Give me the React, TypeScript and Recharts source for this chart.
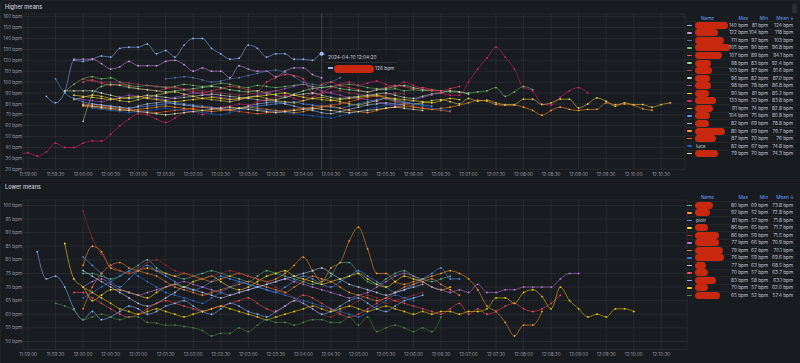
import React from 'react';
import { LineChart, Line, XAxis, YAxis, CartesianGrid, ReferenceLine, ReferenceDot } from 'recharts';

const FONT = 'Inter, "Noto Sans", sans-serif';
const TXT = '#ccccdc';
const AXIS_TXT = 'rgba(204,204,220,0.72)';
const GRID = 'rgba(204,204,220,0.08)';
const HEAD = '#6e9fff';
const BLOB = '#c8290e';

// seconds since 11:59:00, one sample every 10 s
const xTicks = [0, 30, 60, 90, 120, 150, 180, 210, 240, 270, 300, 330, 360, 390, 420, 450, 480, 510, 540, 570, 600, 630, 660, 690];
const topYTicks = [20, 30, 40, 50, 60, 70, 80, 90, 100, 110, 120, 130, 140, 150, 160];
const lowYTicks = [50, 55, 60, 65, 70, 75, 80, 85, 90, 95, 100];

// ---- Higher means ----
const hi01 = [87, 81, 91, 120, 119, 121, 124, 123, 131, 132, 132, 135, 126, 129, 123, 134, 140, 140, 131, 126, 121, 122, 134, 131, 123, 126, 126, 121, 121, 120, 126, 124];
const hi02 = [121, 121, 121, 117, 112, 114, 119, 115, 115, 115, 119, 120, 116, 110, 113, 110, 110, 104, 115, 112, 110, 110, 105, 110, 113, 113, 107, 104];
const hi03 = [103, 104, 105, 104, 102, 100, 101, 103, 104, 106, 108, 110, 111, 109, 105, 100, 98, 97, 100, 104];
const hi04 = [91, 98, 103, 105, 103, 104, 100, 97, 96, 97, 96, 95, 96, 98, 97, 96, 97, 99, 98, 96, 95, 97, 96, 95, 96, 97, 98, 96, 95, 96, 97, 98, 97, 95, 94, 93, 94, 92, 93, 92, 93, 92, 91, 91, 90, 91, 92, 95, 87, 91, 96, 93];
const hi05 = [100, 102, 99, 97, 98, 96, 94, 93, 92, 94, 95, 93, 91, 90, 92, 94, 96, 95, 93, 92, 100, 104, 107, 106, 103, 90, 98, 100, 97, 95, 93, 91, 93, 95, 97, 96, 94, 95, 93, 92, 94, 96];
const hi06 = [64, 88, 96, 98, 97, 95, 94, 93, 92, 91, 92, 93, 94, 95, 96, 95, 93, 92, 91, 92, 90, 88, 86, 89, 92, 94, 95, 96, 94, 93, 92, 91, 93, 94, 96, 97, 95, 93, 92];
const hi07 = [103, 101, 100, 100, 100, 99, 98, 97, 96, 96, 95, 94, 93, 92, 91, 90, 89, 88, 89, 90, 91, 92, 90, 88, 87, 89, 90, 91, 92, 90, 89, 88, 87, 88, 90, 89];
const hi08 = [92, 92, 92, 92, 90, 88, 86, 85, 86, 88, 87, 86, 85, 86, 87, 88, 89, 88, 87, 86, 85, 84, 83, 84, 86, 88, 89, 90, 88, 86, 85, 86, 87, 88, 89, 90, 88, 86, 85, 87, 89, 90, 92, 91, 89];
const hi09 = [85, 84, 83, 82, 84, 86, 88, 87, 86, 85, 84, 86, 88, 90, 89, 87, 86, 85, 84, 86, 88, 90, 92, 94, 96, 98, 95, 92, 90, 88, 86, 85, 84, 82, 80, 78, 80, 83, 86, 88];
const hi10 = [88, 87, 86, 85, 84, 85, 86, 87, 85, 84, 83, 82, 83, 84, 85, 86, 85, 84, 85, 86, 87, 88, 89, 90, 88, 86, 85, 84, 83, 84, 85, 86, 87, 88, 86, 85, 84, 83, 82, 81, 83, 85, 84];
const hi11 = [34, 35, 32, 36, 44, 40, 40, 44, 46, 46, 52, 60, 66, 71, 70, 66, 63, 67, 72, 73, 70, 75, 77, 78, 80, 79, 82, 84, 86, 88, 85, 83, 86, 90, 95, 98, 100, 97, 99, 101, 98, 96, 100, 97, 94, 92, 90, 88, 88, 100, 112, 122, 132, 123, 112, 95, 92, 80, 79, 86, 92, 95, 90];
const hi12 = [84, 86, 88, 87, 85, 83, 82, 84, 86, 88, 90, 91, 89, 87, 85, 84, 83, 82, 84, 86, 87, 85, 83, 82, 81, 83, 85, 86, 84, 82, 80, 79, 81, 83, 85, 84, 82, 80, 81, 83, 84, 82, 80, 85, 82.5, 83.4, 81, 79.4, 79.4, 84.3, 84.3, 79.4, 81, 84.3, 84.3, 76.3, 80, 85.5, 82.5, 78, 81, 79.4, 79.4, 77, 79.4, 81];
const hi13 = [103, 90, 85, 82, 80, 79, 78, 77, 76, 77, 78, 79, 80, 81, 80, 79, 78, 77, 76, 75, 76, 77, 78, 79, 80, 81, 82, 80, 79, 78, 77, 76, 78, 80, 82, 84, 85, 83, 81, 80, 79, 78];
const hi14 = [80, 79, 78, 77, 76, 78, 80, 81, 82, 80, 79, 78, 77, 76, 75, 74, 76, 78, 80, 81, 82, 80, 78, 76, 74, 72, 71, 73, 75, 77, 79, 80, 81, 80, 79];
const hi15 = [78, 77, 76, 75, 74, 74, 75, 76, 77, 78, 77, 76, 75, 74, 73, 74, 75, 76, 77, 76, 75, 74, 73, 72, 73, 75, 77, 78, 76, 74, 73, 72, 74, 76, 77, 78, 77, 76, 75, 76, 77, 78.8, 81, 83.4, 82.5, 79.4, 78.8, 78.8, 77, 74, 69.6, 74, 77, 75, 74, 75, 75, 81, 79.4, 80, 78.8, 75.5, 74.2];
const hi16 = [80, 79, 78, 77, 76, 75, 74, 73, 72, 73, 74, 75, 76, 77, 76, 75, 74, 73, 72, 71, 72, 73, 74, 75, 76, 77, 78, 79, 80, 82, 84, 86, 87, 85, 82, 80, 78, 76, 75, 74, 73];
const hi17 = [76, 75, 74, 73, 72, 73, 74, 75, 76, 75, 74, 73, 72, 71, 70, 72, 74, 76, 75, 74, 73, 72, 71, 70, 69, 68, 67, 69, 71, 73, 75, 77, 79, 80, 82, 80, 78, 76, 75, 74];
const hi18 = [79, 78, 77, 76, 75, 74, 73, 72, 71, 70, 71, 72, 73, 74, 75, 76, 77, 76, 75, 74, 73, 72, 73, 74, 75, 76, 75, 74, 73, 72, 73, 74, 75, 76, 77, 76, 75, 74];

const hiValues = [hi01, hi02, hi03, hi04, hi05, hi06, hi07, hi08, hi09, hi10, hi11, hi12, hi13, hi14, hi15, hi16, hi17, hi18];
const hiStarts = [20, 50, 150, 40, 60, 60, 60, 40, 50, 50, -10, 50, 30, 70, 60, 60, 70, 60];
const hiColors = ['#8ab8ff', '#ca95e5', '#5778b8', '#73bf69', '#f2495c', '#96d98d', '#a3405a', '#c9dcbf', '#a352cc', '#fade2a', '#e0226e', '#e5d14a', '#5794f2', '#a9c3ec', '#ff9830', '#f2662d', '#1f60c4', '#eadfa8'];
const hiNames = [null, null, null, null, null, null, null, null, null, null, null, null, null, null, null, null, 'luca', null];
const hiMax = ['140 bpm', '122 bpm', '111 bpm', '105 bpm', '107 bpm', '98 bpm', '103 bpm', '96 bpm', '98 bpm', '90 bpm', '133 bpm', '91 bpm', '104 bpm', '82 bpm', '80 bpm', '87 bpm', '82 bpm', '79 bpm'];
const hiMin = ['81 bpm', '104 bpm', '97 bpm', '90 bpm', '89 bpm', '83 bpm', '87 bpm', '82 bpm', '78 bpm', '81 bpm', '33 bpm', '74 bpm', '75 bpm', '69 bpm', '69 bpm', '70 bpm', '67 bpm', '70 bpm'];
const hiMean = ['124 bpm', '118 bpm', '103 bpm', '96.8 bpm', '94.1 bpm', '92.4 bpm', '91.6 bpm', '87.0 bpm', '86.8 bpm', '85.2 bpm', '83.8 bpm', '82.8 bpm', '80.8 bpm', '78.8 bpm', '76.7 bpm', '76 bpm', '74.8 bpm', '74.3 bpm'];
const hiBlobW = [33, 23, 29, 35, 27, 16, 17, 15, 16, 14, 21, 18, 15, 14, 30, 21, 0, 23];

const hoverT = 320;
const hoverValue = hi01[(hoverT - 20) / 10];

// ---- Lower means ----
const lo01 = [75, 75, 74, 73, 74, 76, 78, 80, 77, 75, 74, 73, 74, 75, 76, 75, 74, 73, 72, 74, 76, 75, 74, 73, 72, 71, 72, 74, 79, 79, 75, 72, 71, 73, 75, 76, 74, 73, 72, 73, 74];
const lo02 = [78, 85, 83, 77, 76, 75, 76, 77, 76, 75, 74, 75, 74, 73, 72, 73, 74, 75, 74, 73, 72, 73, 75, 78, 81, 76, 72, 77, 79, 87, 92, 84, 75, 75, 72, 71, 72, 73, 74, 75, 76, 75, 73, 69, 63, 61, 57, 52, 56, 56, 61];
const lo03 = [81, 78, 75, 72, 70, 73, 76, 78, 76, 74, 72, 70, 69, 70, 72, 74, 73, 72, 71, 70, 69, 68, 70, 72, 74, 73, 71, 70, 72, 74, 76, 74, 72, 70, 68, 69, 71, 73, 75, 77, 73, 73];
const lo04 = [86, 73, 70, 65, 67, 69, 69, 68, 67, 66, 68, 70, 71, 70, 72, 73, 74, 72, 70, 69, 70, 72, 74, 75, 76, 74, 73, 72, 71, 72, 73, 74, 75, 73, 71, 70, 72, 74, 73, 72, 70, 69, 70];
const lo05 = [98, 88, 82, 78, 76, 75, 77, 79, 80, 78, 76, 75, 74, 73, 74, 75, 76, 75, 74, 73, 72, 70, 68, 66, 64, 62, 60, 59, 61, 63, 65, 67, 66, 64, 65, 66, 67, 68];
const lo06 = [70, 72, 73, 71, 69, 68, 67, 68, 69, 70, 71, 72, 71, 70, 69, 68, 67, 68, 69, 70, 71, 72, 73, 72, 71, 70, 69, 68, 67, 66, 67, 68, 70, 72, 74, 75, 74, 72, 70, 69, 68, 69, 68, 71, 68, 68, 69, 69, 70, 70, 70, 70, 73, 75, 75];
const lo07 = [62, 70, 75, 78, 79, 77, 76, 75, 74, 72, 70, 69, 68, 67, 68, 69, 70, 71, 72, 71, 70, 69, 68, 70, 72, 74, 73, 72, 70, 68, 67, 66, 65, 66, 68, 70, 71, 72, 73, 71, 69, 67];
const lo08 = [66, 68, 70, 72, 74, 76, 74, 72, 70, 68, 67, 66, 65, 64, 66, 68, 70, 72, 71, 70, 69, 68, 67, 66, 65, 64, 63, 62, 61, 60, 59, 61, 63, 65, 67, 66, 65];
const lo09 = [76, 74, 72, 70, 68, 66, 64, 63, 64, 66, 68, 70, 69, 68, 67, 66, 67, 68, 69, 70, 71, 72, 73, 74, 75, 76, 77, 75, 73, 71, 70, 69, 68, 67, 68, 69, 70, 71];
const lo10 = [68, 68, 66, 64, 62, 60, 59, 60, 62, 64, 65, 64, 63, 62, 61, 62, 63, 64, 65, 66, 64, 62, 61, 63, 65, 67, 66, 64, 62, 60, 59, 60, 62, 64, 66, 65, 64, 63, 62, 61, 60, 62, 64, 60, 62, 60, 61, 63, 64, 62, 61, 62, 64, 67];
const lo11 = [83, 73, 74, 70, 62, 58, 61, 58, 59, 61, 63, 62, 60, 61, 63, 64, 65, 63, 61, 60, 62, 64, 63, 61, 60, 59, 61, 63, 65, 64, 62, 60, 61, 63, 65, 66, 64, 62, 61, 63, 65, 66, 67];
const lo12 = [70, 68, 66, 64, 62, 61, 60, 61, 62, 61, 60, 59, 60, 61, 62, 63, 62, 61, 60, 59, 58, 59, 60, 61, 62, 63, 62, 61, 62, 63, 62, 61, 62, 63, 62, 61, 60, 61, 60, 61, 61, 60, 61, 61, 62, 66, 66, 64, 68, 69, 66.5, 62, 70, 65, 62, 59, 60, 59, 62, 62, 61];
const lo13 = [64, 63, 61.5, 58, 59, 60, 59, 58, 59, 59, 57, 56.7, 56, 56, 55.5, 55, 54, 52, 53, 53, 55, 53.6, 56, 58, 57, 57, 56, 57, 58, 58, 57, 57, 59, 56, 59, 53.6, 55, 56, 55, 53.6, 55, 53.6, 59];

const loValues = [lo01, lo02, lo03, lo04, lo05, lo06, lo07, lo08, lo09, lo10, lo11, lo12, lo13];
const loStarts = [60, 60, 60, 40, 60, 60, 60, 60, 60, 50, 10, 60, 30];
const loColors = ['#5ab98a', '#ff9830', '#5794f2', '#fade2a', '#a12f3a', '#b877d9', '#ef843c', '#3274d9', '#b3c9ec', '#f2495c', '#8ab8ff', '#f2cc0c', '#4f8a45'];
const loNames = [null, null, 'piotr', null, null, null, null, null, null, null, null, null, null];
const loMax = ['80 bpm', '92 bpm', '81 bpm', '86 bpm', '86 bpm', '77 bpm', '79 bpm', '76 bpm', '77 bpm', '70 bpm', '83 bpm', '70 bpm', '65 bpm'];
const loMin = ['69 bpm', '52 bpm', '57 bpm', '65 bpm', '59 bpm', '66 bpm', '62 bpm', '59 bpm', '63 bpm', '57 bpm', '58 bpm', '57 bpm', '52 bpm'];
const loMean = ['73.8 bpm', '72.8 bpm', '71.8 bpm', '71.7 bpm', '71.5 bpm', '70.9 bpm', '70.1 bpm', '69.6 bpm', '68.5 bpm', '63.7 bpm', '63.1 bpm', '62.0 bpm', '57.4 bpm'];
const loBlobW = [18, 15, 0, 13, 24, 24, 28, 29, 11, 13, 21, 13, 25];

const toPoints = (start: number, values: number[]) => values.map((v, i) => ({ t: start + i * 10, v }));

const fmtTime = (t: number) => {
  const s = 43140 + t;
  const p = (n: number) => String(n).padStart(2, '0');
  return `${p(Math.floor(s / 3600))}:${p(Math.floor((s % 3600) / 60))}:${p(s % 60)}`;
};

const XTick = ({ x, y, payload }: any) => (
  <text x={x} y={y} dy={3.6} textAnchor="middle" fontSize={4.6} fill={AXIS_TXT} fontFamily={FONT}>
    {fmtTime(payload.value)}
  </text>
);

const YTick = ({ x, y, payload }: any) => (
  <text x={x} y={y} dy={1.6} textAnchor="end" fontSize={4.6} fill={AXIS_TXT} fontFamily={FONT}>
    {`${payload.value} bpm`}
  </text>
);

const Legend = ({ top, rowTop, step, colors, names, max, min, mean, blobW }: any) => (
  <div style={{ position: 'absolute', left: 0, top: 0, width: 800, height: 363, pointerEvents: 'none', fontFamily: FONT, fontSize: 4.7 }}>
    <div style={{ position: 'absolute', top: top - 3.5, height: 7, left: 0, width: 800, color: HEAD, lineHeight: '7px' }}>
      <span style={{ position: 'absolute', left: 701 }}>Name</span>
      <span style={{ position: 'absolute', left: 728, width: 20, textAlign: 'right' }}>Max</span>
      <span style={{ position: 'absolute', left: 748, width: 20, textAlign: 'right' }}>Min</span>
      <span style={{ position: 'absolute', left: 768, width: 26, textAlign: 'right' }}>Mean ↓</span>
    </div>
    {colors.map((c: string, i: number) => {
      const y = rowTop + i * step;
      return (
        <div key={i} style={{ position: 'absolute', top: y - 3.5, height: 7, left: 0, width: 800, color: TXT, lineHeight: '7px' }}>
          <div style={{ position: 'absolute', left: 687, top: 2.8, width: 5, height: 1.5, background: c, borderRadius: 1 }} />
          <div style={{ position: 'absolute', left: 686, top: -0.5, width: 111, height: 1, background: 'rgba(204,204,220,0.06)' }} />
          {names[i] ? (
            <span style={{ position: 'absolute', left: 696 }}>{names[i]}</span>
          ) : (
            <div style={{ position: 'absolute', left: 695, top: 0, width: blobW[i], height: 7, background: BLOB, borderRadius: 3.5 }} />
          )}
          <span style={{ position: 'absolute', left: 726, width: 22, textAlign: 'right' }}>{max[i]}</span>
          <span style={{ position: 'absolute', left: 746, width: 22, textAlign: 'right' }}>{min[i]}</span>
          <span style={{ position: 'absolute', left: 765, width: 28, textAlign: 'right' }}>{mean[i]}</span>
        </div>
      );
    })}
  </div>
);

const seriesLines = (values: number[][], starts: number[], colors: string[]) =>
  values.map((vals, i) => (
    <Line
      key={i}
      data={toPoints(starts[i], vals)}
      dataKey="v"
      type="monotone"
      stroke={colors[i]}
      strokeWidth={0.8}
      strokeOpacity={0.7}
      dot={{ r: 0.9, fill: colors[i], stroke: 'none' }}
      activeDot={false}
      isAnimationActive={false}
    />
  ));

export default function App() {
  return (
    <div style={{ position: 'fixed', left: 0, top: 0, width: 800, height: 363, background: '#111217', overflow: 'hidden', fontFamily: FONT }}>
      <div style={{ position: 'absolute', left: 0, top: 0, width: 799, height: 180, background: '#181b1f', border: '1px solid #202226', borderRadius: 2 }} />
      <div style={{ position: 'absolute', left: 0, top: 183, width: 799, height: 179, background: '#181b1f', border: '1px solid #202226', borderRadius: 2 }} />
      <div style={{ position: 'absolute', left: 5, top: 4, fontSize: 5.6, fontWeight: 500, color: TXT }}>Higher means</div>
      <div style={{ position: 'absolute', left: 5, top: 184, fontSize: 5.6, fontWeight: 500, color: TXT }}>Lower means</div>
      <div style={{ position: 'absolute', left: 792, top: 4, width: 5, height: 9, background: '#2b2e34', borderRadius: 1 }} />

      <div style={{ position: 'absolute', left: 0, top: 0 }}>
        <LineChart width={686} height={181} margin={{ top: 14, right: 1, bottom: 0, left: 0 }}>
          <CartesianGrid stroke={GRID} strokeWidth={1} />
          <XAxis type="number" dataKey="t" domain={[-5.5, 716]} ticks={xTicks} allowDataOverflow height={11.7} tickSize={0} tickMargin={3} axisLine={false} tick={<XTick />} interval={0} />
          <YAxis type="number" domain={[20, 162.5]} ticks={topYTicks} width={23} tickSize={0} tickMargin={1} axisLine={false} allowDataOverflow tick={<YTick />} interval={0} />
          {seriesLines(hiValues, hiStarts, hiColors)}
          <ReferenceLine x={hoverT} stroke="rgba(204,204,220,0.3)" strokeWidth={0.7} />
          <ReferenceDot x={hoverT} y={hoverValue} r={1.8} fill="#8ab8ff" stroke="#ffffff" strokeWidth={0.4} />
        </LineChart>
      </div>

      <div style={{ position: 'absolute', left: 0, top: 183 }}>
        <LineChart width={688} height={180} margin={{ top: 17, right: 1, bottom: 0, left: 0 }}>
          <CartesianGrid stroke={GRID} strokeWidth={1} />
          <XAxis type="number" dataKey="t" domain={[-5.5, 718]} ticks={xTicks} allowDataOverflow height={13.4} tickSize={0} tickMargin={2.4} axisLine={false} tick={<XTick />} interval={0} />
          <YAxis type="number" domain={[47, 102]} ticks={lowYTicks} width={23} tickSize={0} tickMargin={1} axisLine={false} allowDataOverflow tick={<YTick />} interval={0} />
          {seriesLines(loValues, loStarts, loColors)}
        </LineChart>
      </div>

      {/* hover tooltip */}
      <div style={{ position: 'absolute', left: 325, top: 50, width: 72, height: 25, background: 'rgba(24,27,31,0.92)', color: TXT, fontSize: 4.8 }}>
        <div style={{ position: 'absolute', left: 3, top: 4, lineHeight: '6px' }}>2024-04-10 12:04:20</div>
        <div style={{ position: 'absolute', left: 0, top: 11.5, width: 72, height: 1, background: 'rgba(204,204,220,0.12)' }} />
        <div style={{ position: 'absolute', left: 3, top: 17, width: 5, height: 1.5, background: '#8ab8ff' }} />
        <div style={{ position: 'absolute', left: 8.5, top: 14.5, width: 40, height: 8, background: BLOB, borderRadius: 4 }} />
        <div style={{ position: 'absolute', left: 50, top: 15, lineHeight: '6px' }}>126 bpm</div>
      </div>

      <Legend top={18} rowTop={25.3} step={7.55} colors={hiColors} names={hiNames} max={hiMax} min={hiMin} mean={hiMean} blobW={hiBlobW} />
      <Legend top={197.7} rowTop={205.3} step={7.5} colors={loColors} names={loNames} max={loMax} min={loMin} mean={loMean} blobW={loBlobW} />
    </div>
  );
}
